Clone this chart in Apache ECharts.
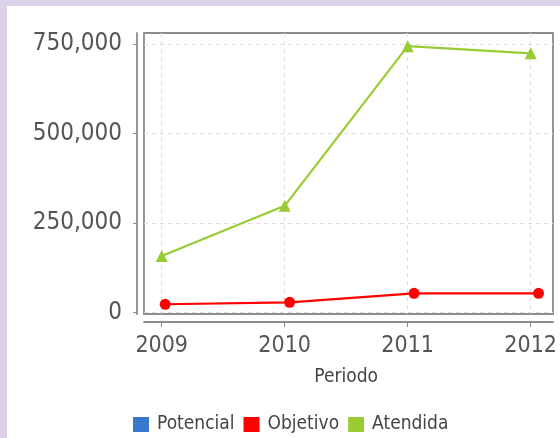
<!DOCTYPE html>
<html>
<head>
<meta charset="utf-8">
<script src="https://cdn.jsdelivr.net/npm/echarts@6/dist/echarts.min.js"></script>
<style>
html,body{margin:0;padding:0;background:#dbd2e7;}
#c{width:560px;height:438px;}
</style>
</head>
<body>
<div id="c"></div>
<script>
var categories = ['2009', '2010', '2011', '2012'];
var potencial = [null, null, null, null];
var objetivo = [23000, 28500, 53500, 53500];
var atendida = [158000, 298000, 744000, 724000];
var yTicks = [0, 250000, 500000, 750000];
var seriesNames = ['Potencial', 'Objetivo', 'Atendida'];
var seriesColors = ['#3a78cf', '#ff0000', '#99cc33'];

var FONT = '"DejaVu Sans Condensed", "Liberation Sans Narrow", "DejaVu Sans", sans-serif';
var yMin = yTicks[0], yMax = yTicks[yTicks.length - 1];
var pxPerUnit = 268.5 / (yMax - yMin);
var dataMin = yMin - 1.5 / pxPerUnit;
var dataMax = yMax + 11 / pxPerUnit;

var chart = echarts.init(document.getElementById('c'), null, {renderer: 'canvas'});
chart.setOption({
  animation: false,
  backgroundColor: 'transparent',
  graphic: [{
    type: 'rect', left: 7, top: 6, shape: {width: 553, height: 432}, style: {fill: '#ffffff'}, z: -10
  }],
  grid: [
    {left: 144, top: 33, width: 409, height: 281, show: true, borderColor: '#8c8c8c', borderWidth: 1.8, backgroundColor: '#ffffff'},
    {left: 144, top: 44, width: 409, height: 268.5},
    {left: 161.7, top: 33, width: 373.3, height: 281},
    {left: 165.2, top: 33, width: 373.3, height: 281}
  ],
  legend: {
    left: 133, top: 415, padding: 0,
    itemWidth: 16, itemHeight: 15, itemGap: 9,
    icon: 'rect',
    data: seriesNames,
    textStyle: {fontFamily: FONT, fontSize: 19, color: '#444', padding: [0, 0, 0, 3]}
  },
  xAxis: [
    {gridIndex: 0, type: 'value', min: 0, max: 1, offset: 8,
      axisLine: {show: true, onZero: false, lineStyle: {color: '#8c8c8c', width: 1.8}},
      axisTick: {show: false}, axisLabel: {show: false}, splitLine: {show: false}},
    {gridIndex: 1, type: 'value', min: 0, max: 1, show: false},
    {gridIndex: 2, type: 'category', data: categories, boundaryGap: false, offset: 8,
      axisLine: {show: false, onZero: false},
      axisTick: {show: true, length: 5, lineStyle: {color: '#8c8c8c'}},
      axisLabel: {fontFamily: FONT, fontSize: 23, color: '#555', margin: 13},
      splitLine: {show: true, lineStyle: {color: '#dddddd', type: [4, 4]}},
      name: 'Periodo', nameLocation: 'middle', nameGap: 46,
      nameTextStyle: {fontFamily: FONT, fontSize: 19, color: '#444'}},
    {gridIndex: 3, type: 'category', data: categories, boundaryGap: false, show: false}
  ],
  yAxis: [
    {gridIndex: 0, type: 'value', min: 0, max: 1, offset: 7,
      axisLine: {show: true, onZero: false, lineStyle: {color: '#8c8c8c', width: 1.8}},
      axisTick: {show: false}, axisLabel: {show: false}, splitLine: {show: false}},
    {gridIndex: 1, type: 'value', min: yMin, max: yMax, interval: yTicks[1] - yTicks[0], offset: 7,
      axisLine: {show: false, onZero: false},
      axisTick: {show: true, length: 4, lineStyle: {color: '#8c8c8c'}},
      axisLabel: {fontFamily: FONT, fontSize: 24, color: '#555', margin: 15,
        formatter: function (v) { return v.toLocaleString('en-US'); }},
      splitLine: {show: true, lineStyle: {color: '#dddddd', type: [4, 4]}}},
    {gridIndex: 2, type: 'value', min: dataMin, max: dataMax, show: false},
    {gridIndex: 3, type: 'value', min: dataMin, max: dataMax, show: false}
  ],
  series: [
    {name: seriesNames[0], type: 'line', xAxisIndex: 2, yAxisIndex: 2, data: potencial,
      color: seriesColors[0], symbol: 'rect', symbolSize: 9, lineStyle: {width: 2}},
    {name: seriesNames[1], type: 'line', xAxisIndex: 3, yAxisIndex: 3, data: objetivo,
      color: seriesColors[1], symbol: 'circle', symbolSize: 11, lineStyle: {width: 2.2}},
    {name: seriesNames[2], type: 'line', xAxisIndex: 2, yAxisIndex: 2, data: atendida,
      color: seriesColors[2], symbol: 'triangle', symbolSize: 12, lineStyle: {width: 2.2}}
  ]
});
</script>
</body>
</html>
